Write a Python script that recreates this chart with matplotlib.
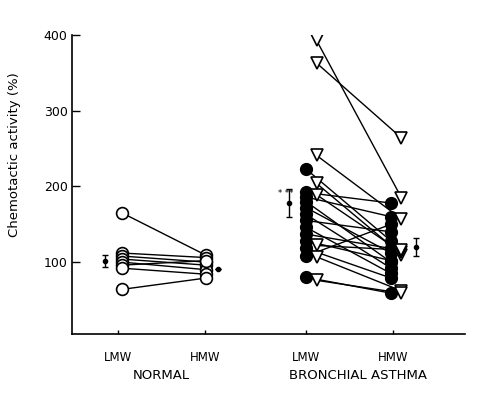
import numpy as np
import matplotlib.pyplot as plt

# group positions on x (LMW / HMW for normal and asthma)
pos_labels = ['LMW', 'HMW', 'LMW', 'HMW']
pos_x = [1.0, 2.0, 3.15, 4.14]

# normal subjects (open circles), LMW -> HMW
normal_lmw = [165, 112, 108, 104, 100, 96, 92, 64]
normal_hmw = [109, 106, 100, 96, 90, 102, 84, 79]

# bronchial asthma, filled circles
asth_c_lmw = [223, 192, 186, 180, 172, 163, 155, 146, 137, 128, 118, 108, 80]
asth_c_hmw = [128, 178, 160, 100, 112, 92, 140, 85, 118, 102, 79, 150, 59]

# bronchial asthma, open triangles
asth_t_lmw = [393, 363, 241, 204, 189, 122, 107, 76]
asth_t_hmw = [185, 264, 157, 110, 113, 116, 62, 59]

# means +- s.e.
mean_vals = [102, 91, 178, 120]
mean_err = [8, 0, 18, 12]

fig = plt.figure(figsize=(4.92, 3.93), dpi=100)
ax = fig.add_axes([0.146, 0.150, 0.80, 0.761])

lw = 1.0
# normal
xa, xb = pos_x[0] + 0.05, pos_x[1] + 0.01
for a, b in zip(normal_lmw, normal_hmw):
    ax.plot([xa, xb], [a, b], color='k', lw=lw, zorder=1)
ax.plot([xa] * len(normal_lmw), normal_lmw, 'o', ms=8.5, mfc='white', mec='k', mew=1.2, zorder=3)
ax.plot([xb] * len(normal_hmw), normal_hmw, 'o', ms=8.5, mfc='white', mec='k', mew=1.2, zorder=3)

# asthma circles
xa, xb = pos_x[2], pos_x[3] - 0.02
for a, b in zip(asth_c_lmw, asth_c_hmw):
    ax.plot([xa, xb], [a, b], color='k', lw=lw, zorder=1)
ax.plot([xa] * len(asth_c_lmw), asth_c_lmw, 'o', ms=8.5, color='k', zorder=3)
ax.plot([xb] * len(asth_c_hmw), asth_c_hmw, 'o', ms=8.5, color='k', zorder=3)

# asthma triangles
xa, xb = pos_x[2] + 0.12, pos_x[3] + 0.10
for a, b in zip(asth_t_lmw, asth_t_hmw):
    ax.plot([xa, xb], [a, b], color='k', lw=lw, zorder=1)
ax.plot([xa] * len(asth_t_lmw), asth_t_lmw, 'v', ms=9, mfc='white', mec='k', mew=1.2, zorder=4)
ax.plot([xb] * len(asth_t_hmw), asth_t_hmw, 'v', ms=9, mfc='white', mec='k', mew=1.2, zorder=4)

# mean markers
mean_x = [pos_x[0] - 0.15, pos_x[1] + 0.14, pos_x[2] - 0.19, pos_x[3] + 0.27]
ax.errorbar(mean_x, mean_vals, yerr=mean_err, fmt='o', ms=3, color='k',
            capsize=2.5, elinewidth=1, capthick=1, zorder=5)
ax.text(mean_x[2] - 0.04, 185, '* **', fontsize=6, ha='center', va='bottom')

ax.set_xlim(0.477, 4.97)
ax.set_ylim(5, 400)
ax.spines['top'].set_visible(False)
ax.spines['right'].set_visible(False)
ax.spines['left'].set_linewidth(1.2)
ax.spines['bottom'].set_linewidth(1.2)
ax.set_yticks([100, 200, 300, 400])
ax.tick_params(axis='y', direction='in', length=6, width=1, labelsize=9, pad=3)
ax.set_xticks(pos_x)
ax.set_xticklabels(pos_labels)
ax.tick_params(axis='x', direction='in', length=3, width=1, labelsize=8.5, pad=12)
ax.set_ylabel('Chemotactic activity (%)', fontsize=9.5)
ax.yaxis.set_label_coords(-0.13, 0.6)

trans = ax.get_xaxis_transform()
ax.text(1.5, -0.137, 'NORMAL', transform=trans, ha='center', va='center', fontsize=9.5)
ax.text((pos_x[2] + pos_x[3]) / 2 + 0.1, -0.137, 'BRONCHIAL ASTHMA', transform=trans,
        ha='center', va='center', fontsize=9.5)

fig.savefig('out.png', dpi=100)
